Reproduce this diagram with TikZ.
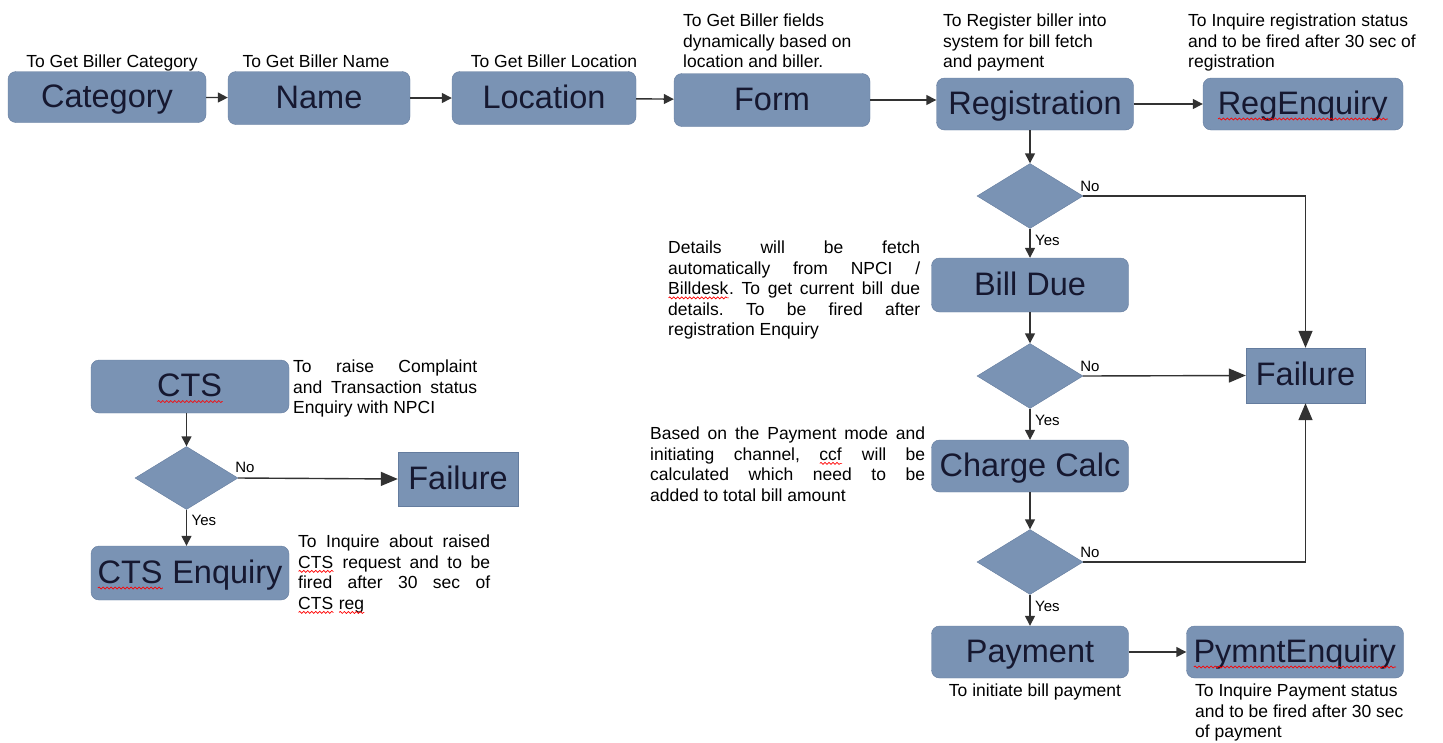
\documentclass[tikz,border=0pt]{standalone}
\usepackage{fontspec}
\setmainfont{Liberation Sans}
\usetikzlibrary{shapes.geometric, arrows.meta, positioning, calc, decorations.pathmorphing}
\definecolor{Block}{RGB}{122, 147, 180}
\definecolor{BlockEdge}{RGB}{100, 124, 158}
\definecolor{BlockText}{RGB}{22, 24, 48}
\definecolor{Wire}{RGB}{50, 50, 50}
\newsavebox{\wavebox}
\newcommand{\wavy}[2][3pt]{\sbox{\wavebox}{#2}\rlap{\usebox{\wavebox}}\tikz[baseline=0pt]\draw[red, line width=0.7pt, sharp corners, decorate, decoration={snake, amplitude=1pt, segment length=4pt}] (0pt,-#1) -- (\wd\wavebox,-#1);}
\hbadness=10000
\frenchspacing

\begin{document}
\begin{tikzpicture}[x=1pt, y=-1pt,
    box/.style={draw=BlockEdge, fill=Block, rounded corners=8pt, minimum width=197pt, minimum height=52pt, inner sep=0pt, text height=23pt, text depth=3pt, text=BlockText, font=\fontsize{32.5}{38}\selectfont},
    failbox/.style={box, rounded corners=0pt, minimum width=119pt, minimum height=55pt},
    dia/.style={draw=BlockEdge, fill=Block, diamond, minimum width=106pt, minimum height=65pt, inner sep=0pt},
    lab/.style={inner sep=0pt, font=\fontsize{17.5}{20.5}\selectfont},
    note/.style={lab, align=justify, anchor=north west},
    yn/.style={inner sep=0pt, font=\fontsize{15}{18}\selectfont},
    arr/.style={draw=Wire, line width=1.4pt, -{Triangle[length=10pt, width=10pt]}},
    farr/.style={arr, -{Triangle[length=17pt, width=14pt]}}]
        \useasboundingbox (0,0) rectangle (1443,742);

        \node (cat) at (107,97) [box, minimum width=198pt, minimum height=51pt] {Category};
        \node (name) at (319,98) [box, minimum width=182pt, minimum height=53pt] {Name};
        \node (loc) at (544,98) [box, minimum width=184pt, minimum height=53pt] {Location};
        \node (form) at (772,100) [box, minimum width=196pt, minimum height=53pt] {Form};
        \node (reg) at (1035,104) [box] {Registration};
        \node (regenq) at (1303,104) [box, minimum width=200pt] {\wavy[5pt]{RegEnquiry}};

        \node (lcat) at (112,67) [lab, anchor=base] {To Get Biller Category};
        \node (lname) at (316,67) [lab, anchor=base] {To Get Biller Name};
        \node (lloc) at (554,67) [lab, anchor=base] {To Get Biller Location};
        \node (lform) at (683,14) [lab, anchor=north west, align=left] {To Get Biller fields\\dynamically based on\\location and biller.};
        \node (lreg) at (943,14) [lab, anchor=north west, align=left] {To Register biller into\\system for bill fetch\\and payment};
        \node (lregenq) at (1188,14) [lab, anchor=north west, align=left] {To Inquire registration status\\and to be fired after 30 sec of\\registration};

        \node (chk1) at (1030,196) [dia] {};
        \node (due) at (1030,285) [box, minimum height=54pt] {Bill Due};
        \node (chk2) at (1030,376) [dia] {};
        \node (calc) at (1030,466) [box] {Charge Calc};
        \node (chk3) at (1030,562) [dia] {};
        \node (pay) at (1030,652) [box] {Payment};
        \node (payenq) at (1295,652) [box, minimum width=217pt] {\wavy[5pt]{PymntEnquiry}};
        \node (fail) at (1305.5,375.5) [failbox] {Failure};

        \node (ldue) at (668,241) [note, text width=252pt] {Details will be fetch\linebreak automatically from NPCI /\linebreak \wavy{Billdesk}. To get current bill due\linebreak details. To be fired after\linebreak registration Enquiry};
        \node (lcalc) at (650,427) [note, text width=275pt] {Based on the Payment mode and\linebreak initiating channel, \wavy{ccf} will be\linebreak calculated which need to be\linebreak added to total bill amount};
        \node (lpay) at (1035,692) [lab] {To initiate bill payment};
        \node (lpayenq) at (1195,684) [lab, anchor=north west, align=left] {To Inquire Payment status\\and to be fired after 30 sec\\of payment};

        \node (cts) at (190,386.5) [box, minimum width=198pt, minimum height=53pt] {\wavy[5pt]{CTS}};
        \node (chk4) at (186.5,478) [dia, minimum width=103pt, minimum height=63pt] {};
        \node (ctsfail) at (458,479) [failbox, minimum width=120pt, minimum height=54pt] {Failure};
        \node (ctsenq) at (190,573) [box, minimum width=198pt, minimum height=54pt] {\wavy[5pt]{CTS} Enquiry};
        \node (lcts) at (293,360) [note, text width=184pt] {To raise Complaint\linebreak and Transaction status\linebreak Enquiry with NPCI};
        \node (lctsenq) at (298,535) [note, text width=192pt] {To Inquire about raised\linebreak \wavy{CTS} request and to be\linebreak fired after 30 sec of\linebreak \wavy{CTS} \wavy{reg}};

        \node (no1) [yn, above right=4pt and -3pt of chk1.east] {No};
        \node (yes1) [yn, below right=6pt and 5pt of chk1.south] {Yes};
        \node (no2) [yn, above right=4pt and -3pt of chk2.east] {No};
        \node (yes2) [yn, below right=6pt and 5pt of chk2.south] {Yes};
        \node (no3) [yn, above right=4pt and -3pt of chk3.east] {No};
        \node (yes3) [yn, below right=6pt and 5pt of chk3.south] {Yes};
        \node (no4) [yn, above right=5pt and -3pt of chk4.east] {No};
        \node (yes4) [yn, below right=5pt and 5pt of chk4.south] {Yes};

        \draw[arr] (cat) -- (name);
        \draw[arr] (name) -- (loc);
        \draw[arr] (loc) -- (form);
        \draw[arr] (form) -- (form -| reg.west);
        \draw[arr] (reg) -- (regenq);
        \draw[arr] (reg.south -| chk1) -- (chk1);
        \draw[arr] (chk1) -- (due);
        \draw[arr] (due) -- (chk2);
        \draw[arr] (chk2) -- (calc);
        \draw[arr] (calc) -- (chk3);
        \draw[arr] (chk3) -- (pay);
        \draw[arr] (pay) -- (payenq);
        \draw[farr] (chk1.east) -| (fail.north);
        \draw[farr] (chk2.east) -- (fail.west);
        \draw[farr] (chk3.east) -| (fail.south);
        \draw[arr] (cts.south -| chk4) -- (chk4);
        \draw[farr] (chk4.east) -- (ctsfail.west);
        \draw[arr] (chk4) -- (chk4 |- ctsenq.north);
\end{tikzpicture}
\end{document}
